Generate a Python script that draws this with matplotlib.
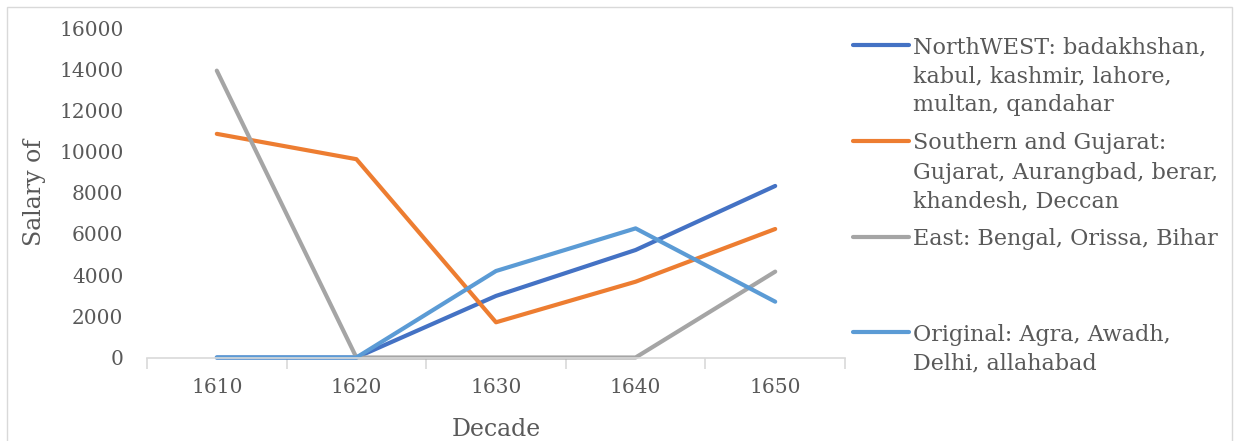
import matplotlib
matplotlib.use("Agg")
import matplotlib.pyplot as plt
from matplotlib.lines import Line2D
from matplotlib.patches import Rectangle

# salary totals per region group, by decade
decades = ["1610", "1620", "1630", "1640", "1650"]
northwest = [0, 0, 2990, 5220, 8330]
southern = [10860, 9630, 1710, 3680, 6240]
east = [13930, 0, 0, 0, 4170]
original = [0, 0, 4200, 6270, 2710]

labels = [
    "NorthWEST: badakhshan,\nkabul, kashmir, lahore,\nmultan, qandahar",
    "Southern and Gujarat:\nGujarat, Aurangbad, berar,\nkhandesh, Deccan",
    "East: Bengal, Orissa, Bihar",
    "Original: Agra, Awadh,\nDelhi, allahabad",
]
colors = ["#4472C4", "#ED7D31", "#A5A5A5", "#5B9BD5"]

W, H = 1236, 441
plt.rcParams["font.family"] = ["DejaVu Serif"]
txt = "#595959"
grey = "#D9D9D9"

fig = plt.figure(figsize=(W / 100, H / 100), dpi=100)
fig.patch.set_facecolor("white")

# outer chart border
fig.add_artist(Rectangle((7 / W, -0.05), (1232 - 7) / W, 1 - 7 / H + 0.05,
                         transform=fig.transFigure, fill=False,
                         edgecolor=grey, lw=1))

left, right, top, bottom = 147, 845, 28, 357.5
ax = fig.add_axes([left / W, 1 - bottom / H, (right - left) / W, (bottom - top) / H])

x = range(len(decades))
for series, c in zip([northwest, southern, east, original], colors):
    ax.plot(x, series, color=c, lw=3.0, solid_capstyle="round",
            solid_joinstyle="round", clip_on=False)

ax.set_xlim(-0.5, len(decades) - 0.5)
ax.set_ylim(0, 16000)
ax.set_yticks(range(0, 16001, 2000))
ax.set_xticks(list(x))
ax.set_xticklabels(decades)
ax.set_xticks([i - 0.5 for i in range(len(decades) + 1)], minor=True)

for s in ["top", "right", "left"]:
    ax.spines[s].set_visible(False)
ax.spines["bottom"].set_color(grey)
ax.spines["bottom"].set_linewidth(1.2)

ax.tick_params(axis="x", which="major", length=0, pad=15, labelsize=14.5, labelcolor=txt)
ax.tick_params(axis="x", which="minor", length=8, color=grey, width=1.2)
ax.tick_params(axis="y", length=0, pad=17, labelsize=14.5, labelcolor=txt)

fig.text(35 / W, 1 - 193 / H, "Salary of", rotation=90, ha="center", va="center",
         fontsize=17, color=txt)
fig.text(496 / W, 1 - 430 / H, "Decade", ha="center", va="center",
         fontsize=17, color=txt)

# legend on the right, one text per wrapped line
handle_y = [45, 141, 237, 332]
line_gap = 29.0
for lab, c, hy in zip(labels, colors, handle_y):
    fig.add_artist(Line2D([853 / W, 909 / W], [1 - hy / H, 1 - hy / H],
                          transform=fig.transFigure, color=c, lw=3.0,
                          solid_capstyle="round"))
    for i, part in enumerate(lab.split("\n")):
        base = hy + 8.5 + i * line_gap
        fig.text(913 / W, 1 - base / H, part, ha="left", va="baseline",
                 fontsize=16, color=txt)

fig.savefig("out.png", dpi=100)
